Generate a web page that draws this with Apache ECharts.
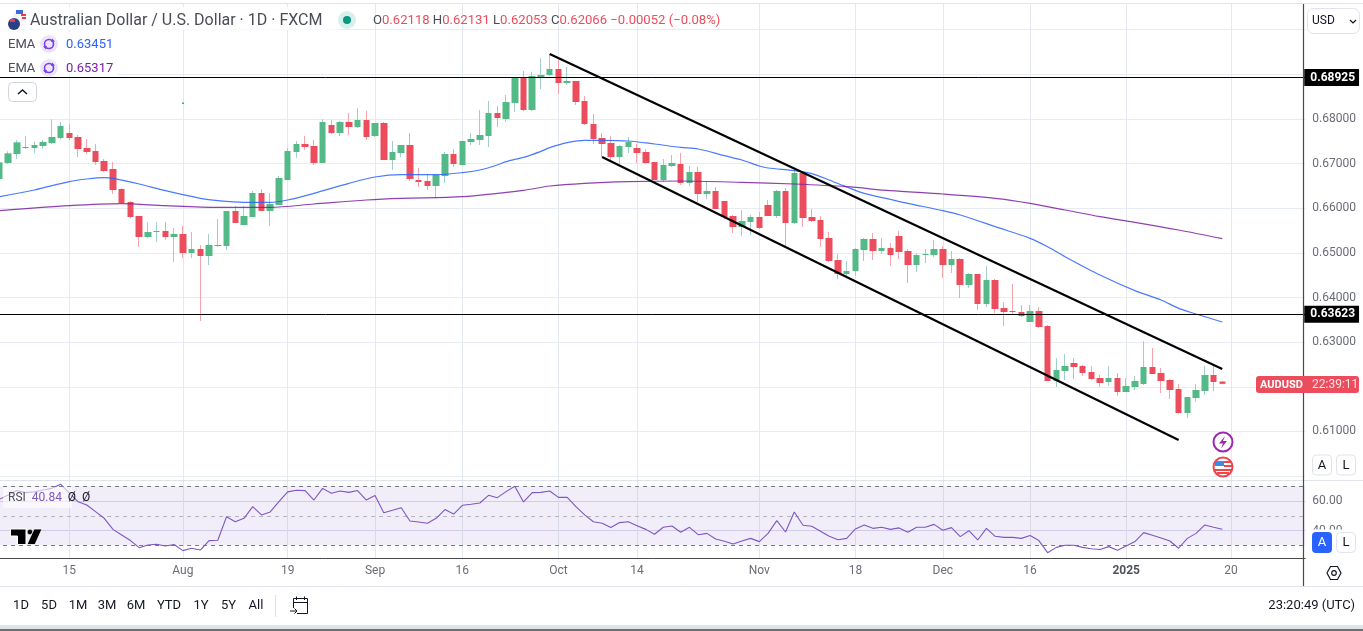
<!DOCTYPE html>
<html><head><meta charset="utf-8">
<style>html,body{margin:0;padding:0;background:#fff;overflow:hidden}#c{width:1363px;height:631px}</style>
<script src="https://cdn.jsdelivr.net/npm/echarts@6/dist/echarts.min.js"></script>
</head><body><div id="c"></div>
<script>
const barCount = 150;
const tickIndex = [8,21,33,43,53,64,73,87,98,108,118,129,141];
const tickLabels = ['15','Aug','19','Sep','16','Oct','14','Nov','18','Dec','16','2025','20'];
const hiddenPriceTicks = ['0.60','0.62','0.69','0.70'];
const rsiTicks = ['60','40'];
const opens = [
.66653,.67013,.67214,.67348,.67348,.67393,.67460,.67572,.67684,.67595,
.67348,.67281,.67057,.66878,.66430,.66139,.65826,.65355,.65467,.65490,
.65355,.65423,.64997,.65087,.64930,.65154,.65154,.65938,.65624,.65803,
.66341,.65938,.66072,.66632,.67259,.67438,.67393,.67013,.67864,.67684,
.67931,.67819,.67976,.67617,.67908,.67080,.67236,.67415,.66632,.66609,
.66497,.66721,.67214,.66968,.67483,.67527,.67617,.68132,.67998,.68356,
.68916,.68199,.68938,.68983,.69118,.68804,.68849,.68401,.67886,.67572,
.67460,.67147,.67371,.67348,.67259,.67035,.66632,.66945,.66990,.66564,
.66811,.66318,.66385,.66161,.65825,.65579,.65691,.65803,.66072,.65825,
.66385,.65669,.66788,.65803,.65736,.65333,.64839,.64526,.64593,.65063,
.65310,.65041,.65108,.65377,.65041,.64727,.64951,.64951,.65086,.64727,
.64862,.64280,.64526,.63854,.64392,.63764,.63697,.63675,.63451,.63697,
.63361,.62130,.62354,.62533,.62466,.62331,.62197,.62107,.62197,.61883,
.61995,.62062,.62443,.62309,.62152,.61950,.61413,.61749,.61906,.62264,
.62118];
const closes = [
.67027,.67229,.67475,.67371,.67416,.67483,.67595,.67841,.67572,.67326,
.67259,.67035,.66833,.66408,.66117,.65803,.65355,.65467,.65490,.65355,
.65423,.64997,.65087,.64930,.65176,.65176,.65938,.65669,.65826,.66341,
.65938,.66094,.66677,.67281,.67438,.67371,.67013,.67931,.67684,.67931,
.67819,.67976,.67595,.67908,.67080,.67259,.67415,.66654,.66587,.66497,
.66744,.67214,.66990,.67505,.67550,.67639,.68132,.68020,.68379,.68916,
.68199,.68961,.68983,.69118,.68804,.68849,.68379,.67886,.67550,.67438,
.67147,.67393,.67483,.67236,.67012,.66632,.66968,.67012,.66564,.66811,
.66318,.66385,.65982,.65803,.65579,.65713,.65803,.65557,.65825,.66385,
.65669,.66788,.65781,.65713,.65310,.64818,.64526,.64593,.65086,.65310,
.65041,.65108,.64951,.65019,.64727,.64951,.64974,.65086,.64727,.64862,
.64280,.64526,.63854,.64392,.63742,.63675,.63675,.63585,.63697,.63339,
.62130,.62376,.62466,.62443,.62309,.62174,.62085,.62197,.61883,.62018,
.62130,.62443,.62286,.62130,.61928,.61413,.61771,.61928,.62264,.62107,
.62066];
const lows = [
.66631,.66990,.67102,.67326,.67237,.67334,.67438,.67543,.67528,.67147,
.67214,.66968,.66811,.66318,.66117,.65781,.65131,.65333,.65243,.65288,
.64796,.64885,.64885,.63474,.64728,.65131,.65064,.65669,.65624,.65803,
.65938,.65602,.66072,.66632,.67125,.67304,.66968,.67013,.67662,.67617,
.67640,.67796,.67528,.67595,.67080,.66856,.67146,.66609,.66475,.66408,
.66229,.66564,.66923,.66968,.67415,.67415,.67371,.67819,.67931,.68155,
.68177,.68177,.68670,.68961,.68558,.68759,.68311,.67863,.67438,.67147,
.67080,.66990,.67236,.67012,.66990,.66632,.66587,.66923,.66520,.66497,
.66139,.66206,.65982,.65758,.65445,.65378,.65400,.65534,.65825,.65781,
.65131,.65646,.65579,.65691,.65131,.64795,.64414,.64436,.64481,.64817,
.64839,.64974,.64705,.64862,.64324,.64571,.64772,.64907,.64436,.64548,
.63988,.64212,.63720,.63787,.63653,.63361,.63608,.63563,.63451,.63317,
.62130,.61995,.62152,.62174,.62242,.62152,.61995,.62018,.61794,.61883,
.61928,.62040,.62286,.61861,.61727,.61391,.61301,.61659,.61816,.61906,
.62053];
const highs = [
.67027,.67274,.67528,.67617,.67490,.67528,.67991,.67931,.67886,.67640,
.67550,.67438,.67102,.67035,.66453,.66162,.65826,.65691,.65691,.65691,
.65557,.65602,.65467,.65176,.65423,.65758,.65938,.66050,.66050,.66386,
.66430,.66341,.66721,.67348,.67505,.67617,.67528,.67998,.67976,.67953,
.68132,.68244,.68177,.67908,.67931,.67505,.67415,.67684,.66900,.66766,
.66744,.67259,.67326,.67505,.67684,.68199,.68401,.68289,.68535,.68938,
.69073,.69050,.69364,.69453,.69341,.69162,.68849,.68513,.68110,.67684,
.67617,.67415,.67595,.67438,.67326,.67035,.67102,.67192,.67236,.66945,
.66923,.66609,.66475,.66161,.65848,.65960,.65848,.65915,.66184,.66408,
.66452,.66878,.66788,.65982,.65825,.65467,.64974,.64817,.65108,.65332,
.65444,.65332,.65220,.65489,.65086,.64996,.65086,.65287,.65153,.65041,
.64884,.64548,.64526,.64705,.64414,.63899,.64302,.63832,.63832,.63787,
.63384,.62645,.62734,.62645,.62488,.62466,.62264,.62466,.62309,.62197,
.62242,.63025,.62869,.62421,.62174,.62062,.61771,.62062,.62466,.62466,
.62131];
const emaFast = [[0,.66259],[4,.66408],[8,.66595],[10,.66654],[12,.66684],[13,.66669],[16,.66542],[19,.66393],[23,.66221],[25,.66169],[28,.66132],[31,.66132],[33,.66184],[36,.66333],[40,.66557],[43,.66699],[46,.66751],[50,.66751],[53,.66796],[55,.66856],[57,.66968],[58,.67042],[59,.67095],[60,.67139],[62,.67274],[63,.67356],[65,.67468],[67,.67520],[69,.67520],[72,.67505],[75,.67438],[78,.67363],[80,.67326],[83,.67177],[85,.67080],[87,.66945],[88,.66900],[91,.66841],[93,.66774],[95,.66632],[97,.66475],[99,.66332],[102,.66198],[104,.66109],[108,.65944],[110,.65847],[112,.65720],[114,.65586],[118,.65325],[120,.65138],[122,.64914],[126,.64504],[130,.64153],[133,.63944],[135,.63757],[137,.63630],[140,.63451]];
const emaSlow = [[0,.65945],[8,.66057],[14,.66102],[19,.66057],[25,.66020],[31,.66020],[36,.66094],[42,.66184],[46,.66221],[53,.66258],[60,.66400],[63,.66497],[67,.66557],[72,.66594],[78,.66609],[85,.66579],[91,.66542],[97,.66482],[102,.66392],[108,.66318],[114,.66221],[118,.66109],[122,.65959],[126,.65810],[130,.65683],[135,.65511],[140,.65317]];
const rsi = [
61.2,64.1,67.1,65.7,66.2,67.5,68.6,71.4,65.3,59.6,
57.3,52.8,48.3,40.8,37.0,33.2,28.4,30.2,30.7,29.5,
30.5,26.4,28.0,26.8,33.2,33.4,49.4,46.0,48.3,56.2,
50.6,52.6,59.6,66.2,67.3,67.1,60.7,68.6,65.3,66.8,
65.9,67.1,60.7,63.7,52.1,53.7,55.5,46.5,45.8,44.9,
48.3,54.2,51.2,57.1,57.8,58.7,63.9,62.3,66.4,70.0,
59.4,65.7,65.9,66.8,62.5,62.5,56.2,50.6,46.0,44.9,
42.0,45.4,46.0,43.3,40.8,37.5,42.2,43.1,38.8,42.2,
37.2,38.1,34.3,32.7,30.9,32.9,34.7,32.5,38.1,46.7,
39.0,52.6,43.6,42.9,39.5,36.1,33.8,34.7,41.1,43.8,
41.5,42.2,40.8,41.8,38.8,42.2,42.2,44.2,40.2,42.0,
35.9,39.9,33.6,41.5,36.1,35.4,35.4,34.7,36.6,33.2,
25.0,28.6,30.0,30.0,28.6,27.7,27.1,29.1,26.6,29.5,
32.5,38.6,36.8,35.0,32.9,28.0,34.7,38.1,43.8,42.2,
40.84];
const upperChannel = [[63,.69454],[140,.62399]];
const lowerChannel = [[69,.67147],[135,.60809]];
const priceLevels = [.68925,.63623];
const rsiLevels = [70,50,30];

const UP='#53b987', DOWN='#eb4d5c', FONT='Roboto, "Noto Sans", sans-serif';
const cats = Array.from({length:barCount},(_,i)=>String(i));
const isTick = i => tickIndex.includes(+i);
const G = {left:-4.94,width:1310.2,outerBoundsMode:'none'};
const candleRaw = opens.map((o,i)=>[o,closes[i],lows[i],highs[i]]);
const candleBody = opens.map((o,i)=>[o,closes[i],Math.min(o,closes[i]),Math.max(o,closes[i])]);

function T(x,y,text,fill,size,align){return {type:'text',z:120,silent:true,style:{x,y,text,fill,font:(size||12)+'px '+FONT,textVerticalAlign:'middle',textAlign:align||'left'}};}
function R(x,y,w,h,fill,stroke,r,z){return {type:'rect',z:z||110,silent:true,shape:{x,y,width:w,height:h,r:r||0},style:{fill,stroke:stroke||null,lineWidth:1}};}
function C(cx,cy,r,fill,stroke,lw,z){return {type:'circle',z:z||115,silent:true,shape:{cx,cy,r},style:{fill,stroke:stroke||null,lineWidth:lw||1}};}
function L(x1,y1,x2,y2,stroke,lw,z){return {type:'line',z:z||105,silent:true,shape:{x1,y1,x2,y2},style:{stroke,lineWidth:lw||1}};}
function PL(pts,stroke,lw,z){return {type:'polyline',z:z||118,silent:true,shape:{points:pts},style:{fill:null,stroke,lineWidth:lw||1}};}
function Poly(pts,fill,stroke,lw,z){return {type:'polygon',z:z||118,silent:true,shape:{points:pts},style:{fill,stroke:stroke||null,lineWidth:lw||1}};}

const INK='#131722';
const gfx = [
 L(0,3.5,1363,3.5,'#e0e3eb',1),
 L(0,480.5,1363,480.5,'#e0e3eb',1),
 L(0,586.5,1363,586.5,'#e0e3eb',1),
 L(1303.5,4,1303.5,586,'#4a4a4a',1.2),
 R(0,625,1363,4,'#e0e3eb',null,0,106),
 R(0,629,1363,2,'#707070',null,0,106),
 R(0,7,340,23,'rgba(255,255,255,.75)',null,0,108),
 R(0,32,118,44,'rgba(255,255,255,.75)',null,0,108),
 C(14,24,6,'#2b3f87',null,1,115), C(20,16,6,'#f5f5f5','#e0e0e0',.5,114),
 R(16,10,7,4,'#3d6bd6',null,0,116), R(21,14,5,2,'#e8404a',null,0,116), R(22,17,4,2,'#e8404a',null,0,116),
 R(10,19,5,3,'#e8404a',null,0,116),
 T(30,20.5,'Australian Dollar / U.S. Dollar · 1D · FXCM','#4a4d57',16),
 C(347,20,9,'#d9efec'), C(347,20,4,'#089981',null,1,116),
 {type:'text',z:120,silent:true,style:{x:373,y:20.5,textVerticalAlign:'middle',font:'13.1px '+FONT,
   text:'{g|O}0.62118 {g|H}0.62131 {g|L}0.62053 {g|C}0.62066 −0.00052 (−0.08%)',fill:DOWN,
   rich:{g:{fill:'#4a4d57',font:'13.1px '+FONT}}}},
 T(8,44.5,'EMA','#4a4d57',13), C(49,44,9,'#ece6fb'), C(49,44,4.5,'none','#7c3aed',1.6,116),
 Poly([[52,38.5],[55,41.5],[51,42]],'#7c3aed'), Poly([[46,49.5],[43,46.5],[47,46]],'#7c3aed'),
 T(66,44.5,'0.63451','#2962ff',13),
 T(8,68.5,'EMA','#4a4d57',13), C(49,68,9,'#ece6fb'), C(49,68,4.5,'none','#7c3aed',1.6,116),
 Poly([[52,62.5],[55,65.5],[51,66]],'#7c3aed'), Poly([[46,73.5],[43,70.5],[47,70]],'#7c3aed'),
 T(66,68.5,'0.65317','#7b1fa2',13),
 R(8.5,82.5,28,19,'#fff','#d1d4dc',4),
 PL([[18,94],[22.5,90],[27,94]],INK,1.5),
 R(182,102.5,2,1.5,'#00bcd4',null,0,112),
 R(3,487,69,21,'rgba(255,255,255,.6)',null,0,108),
 {type:'text',z:120,silent:true,style:{x:8,y:497.5,textVerticalAlign:'middle',font:'12px '+FONT,
   text:'{g|RSI}  40.84  {k|Ø  Ø}',fill:'#7e57c2',rich:{g:{fill:'#4a4d57',font:'12px '+FONT},k:{fill:INK,font:'12px '+FONT}}}},
 Poly([[10.5,529],[26,529],[26,544.5],[17.5,544.5],[17.5,536],[10.5,536]],'#000','#fff',1),
 C(30,532,2.8,'#000','#fff',.6,118),
 Poly([[34,529],[42,529],[35,544.5],[27,544.5]],'#000','#fff',.8),
 R(1307.5,8.5,52,25,'#fff','#e0e3eb',6),
 T(1312,21,'USD',INK,12),
 PL([[1350,20],[1353,23],[1356,20]],INK,1.2),
 R(1256,376,103,17,DOWN,null,3,125),
 {type:'text',z:126,silent:true,style:{x:1260,y:385,text:'AUDUSD',fill:'#fff',font:'bold 11px '+FONT,textVerticalAlign:'middle'}},
 {type:'text',z:126,silent:true,style:{x:1312,y:385,text:'22:39:11',fill:'#fde4e6',font:'12px '+FONT,textVerticalAlign:'middle'}},
 R(1308,529.5,52,26,'#fff',null,0,109),
 R(1312.5,455,19,20,'#fff','#e0e3eb',4), T(1322,465.5,'A',INK,13,'center'),
 R(1336.5,455,19,20,'#fff','#e0e3eb',4), T(1346,465.5,'L',INK,13,'center'),
 R(1312,532,20,21,'#2962ff',null,4), T(1322,543,'A','#fff',13,'center'),
 R(1336.5,532.5,19,20,'#fff','#e0e3eb',4), T(1346,543,'L',INK,13,'center'),
 Poly([[1327,573],[1330.5,566.5],[1337.5,566.5],[1341,573],[1337.5,579.5],[1330.5,579.5]],'#fff',INK,1.2),
 C(1334,573,2.3,'#fff',INK,1.2,119),
 C(1223,442,9.5,'#fff','#9c27b0',2),
 Poly([[1225,436],[1219,443.5],[1223,443.5],[1221,448.5],[1227,441],[1223,441]],'#9c27b0'),
 C(1223,467,9.5,'#fff','#f0444c',2),
 R(1215,461,9,5,'#3d8be8',null,0,117), R(1224,461,7,2,'#f0444c',null,0,117), R(1224,465,8,2,'#f0444c',null,0,117),
 R(1215,469,16,2,'#f0444c',null,0,117), R(1217,472,12,2,'#f0444c',null,0,117),
 T(21,606,'1D',INK,13,'center'), T(49,606,'5D',INK,13,'center'), T(78,606,'1M',INK,13,'center'), T(107,606,'3M',INK,13,'center'),
 T(136,606,'6M',INK,13,'center'), T(169,606,'YTD',INK,13,'center'), T(201,606,'1Y',INK,13,'center'), T(228.5,606,'5Y',INK,13,'center'), T(256,606,'All',INK,13,'center'),
 L(275.5,595,275.5,617,'#e0e3eb',1),
 PL([[293.5,608],[293.5,598.5],[307.5,598.5],[307.5,613.5],[297,613.5]],INK,1),
 L(293.5,602.5,307.5,602.5,INK,1,118), L(296.5,596.5,296.5,600,INK,1,118), L(304.5,596.5,304.5,600,INK,1,118),
 L(290,611,297,611,INK,1,118), PL([[294.5,608.5],[297,611],[294.5,613.5]],INK,1),
 T(1355,606,'23:20:49 (UTC)',INK,13,'right')
];

const chart = echarts.init(document.getElementById('c'),null,{renderer:'canvas'});
const xBase = {type:'category',data:cats,boundaryGap:true};
chart.setOption({
 animation:false, backgroundColor:'#fff',
 grid:[
  Object.assign({},G,{top:3.5,height:554.8}),
  Object.assign({},G,{top:29.6,height:446.5}),
  Object.assign({},G,{top:471.55,height:88.5})
 ],
 xAxis:[
  Object.assign({},xBase,{gridIndex:0,
    axisLine:{show:true,lineStyle:{color:'#4a4a4a',width:1}},axisTick:{show:false},
    splitLine:{show:true,alignWithLabel:true,interval:(i)=>isTick(i),lineStyle:{color:'#e3e9ef',width:1}},
    axisLabel:{show:true,interval:(i)=>isTick(i),margin:7,hideOverlap:false,
      formatter:(v)=>{const k=tickIndex.indexOf(+v);const s=k<0?'':tickLabels[k];return s==='2025'?'{b|2025}':s;},
      color:'#6a6d78',fontSize:12,fontFamily:FONT,rich:{b:{fontWeight:'bold',color:'#50535e',fontSize:12,fontFamily:FONT}}}}),
  Object.assign({},xBase,{gridIndex:1,show:false}),
  Object.assign({},xBase,{gridIndex:2,show:false})
 ],
 yAxis:[
  {type:'value',gridIndex:0,min:0,max:1,show:false,splitLine:{show:false}},
  {type:'value',gridIndex:1,position:'right',min:.6,max:.7,interval:.01,
   axisLine:{show:false},axisTick:{show:false},
   splitLine:{show:true,lineStyle:{color:'#e6ecf1',width:1}},
   axisLabel:{margin:7,color:'#6a6d78',fontSize:12,fontFamily:FONT,padding:[2,0,0,0],
     formatter:(v)=>hiddenPriceTicks.includes(v.toFixed(2))?'':v.toFixed(5)}},
  {type:'value',gridIndex:2,position:'right',min:20,max:80,interval:20,
   axisLine:{show:false},axisTick:{show:false},
   splitLine:{show:true,showMinLine:false,showMaxLine:false,lineStyle:{color:'#d8d8ee',width:1}},
   axisLabel:{margin:7,color:'#6a6d78',fontSize:12,fontFamily:FONT,
     formatter:(v)=>rsiTicks.includes(String(v))?v.toFixed(2):''}}
 ],
 series:[
  {type:'candlestick',name:'wick',xAxisIndex:1,yAxisIndex:1,data:candleRaw,barWidth:1,z:3,
   itemStyle:{color:'#a3cdc7',color0:'#f7a3ab',borderColor:'#a3cdc7',borderColor0:'#f7a3ab',borderWidth:1}},
  {type:'candlestick',name:'body',xAxisIndex:1,yAxisIndex:1,data:candleBody,barWidth:7,z:4,
   itemStyle:{color:UP,color0:DOWN,borderColor:UP,borderColor0:DOWN,borderWidth:0}},
  {type:'line',name:'EMA fast',xAxisIndex:1,yAxisIndex:1,data:emaFast,showSymbol:false,smooth:.3,z:5,lineStyle:{color:'#2962ff',width:1.2,opacity:.85}},
  {type:'line',name:'EMA slow',xAxisIndex:1,yAxisIndex:1,data:emaSlow,showSymbol:false,smooth:.3,z:5,lineStyle:{color:'#7b1fa2',width:1.2,opacity:.85}},
  {type:'line',name:'upper',xAxisIndex:1,yAxisIndex:1,data:upperChannel,showSymbol:false,z:6,lineStyle:{color:'#000',width:2.2}},
  {type:'line',name:'lower',xAxisIndex:1,yAxisIndex:1,data:lowerChannel,showSymbol:false,z:6,lineStyle:{color:'#000',width:2.2},
   markLine:{silent:true,symbol:'none',z:7,animation:false,precision:5,
     lineStyle:{color:'#000',width:1,type:'solid'},
     label:{show:true,position:'end',distance:-1,color:'#fff',backgroundColor:'#000',fontFamily:FONT,fontSize:12,fontWeight:'bold',padding:[3,4,2,6],
       formatter:(p)=>p.value.toFixed(5)},
     data:priceLevels.map(v=>({yAxis:v}))}},
  {type:'line',name:'RSI',xAxisIndex:2,yAxisIndex:2,data:rsi,showSymbol:false,z:5,lineStyle:{color:'#7e57c2',width:1.1},
   markArea:{silent:true,itemStyle:{color:'rgba(126,87,194,0.1)'},data:[[{yAxis:rsiLevels[2]},{yAxis:rsiLevels[0]}]]},
   markLine:{silent:true,symbol:'none',label:{show:false},animation:false,
     data:[{yAxis:rsiLevels[0],lineStyle:{color:'#787b86',type:[4,4],width:1}},
           {yAxis:rsiLevels[1],lineStyle:{color:'#b2b5be',type:[4,4],width:1}},
           {yAxis:rsiLevels[2],lineStyle:{color:'#787b86',type:[4,4],width:1}}]}}
 ],
 graphic:{elements:gfx}
});
</script></body></html>
